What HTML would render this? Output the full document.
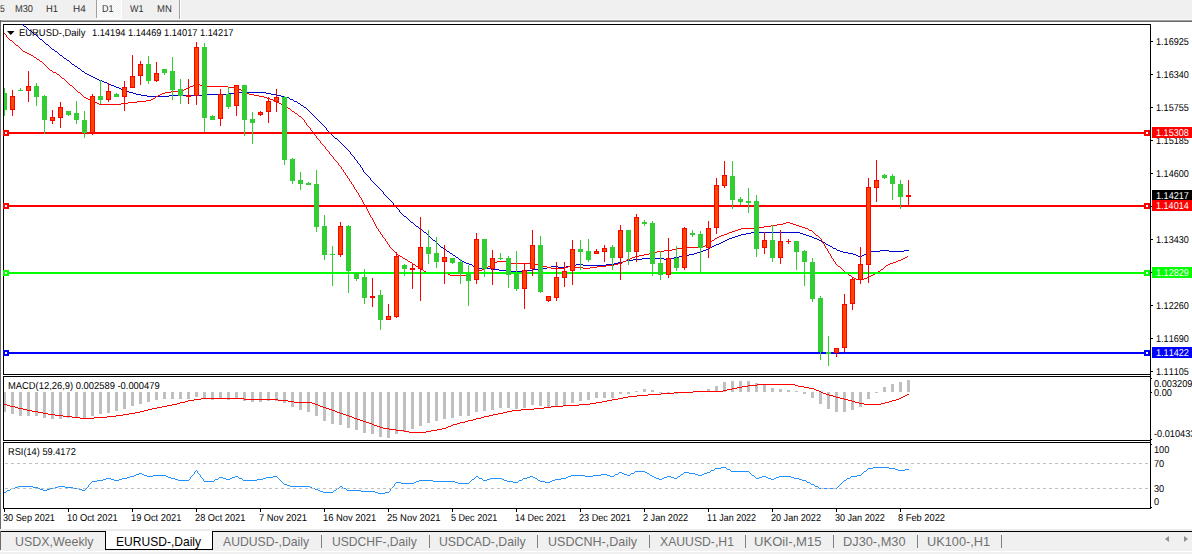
<!DOCTYPE html>
<html><head><meta charset="utf-8"><title>EURUSD</title>
<style>
html,body{margin:0;padding:0;overflow:hidden;}
body{width:1192px;height:554px;background:#fff;position:relative;overflow:hidden;font-family:"Liberation Sans",sans-serif;color:#000;}
.abs{position:absolute;white-space:nowrap;line-height:1;transform-origin:0 0;font-kerning:none;}
.t9,.tb,.ax,.dt{text-rendering:geometricPrecision;}
.tb{color:#303030;}
.tab{color:#707070;}
.ax{}
.dt{}
.lab{position:absolute;left:1151px;width:41px;height:11px;}
</style></head><body>
<svg width="1192" height="554" viewBox="0 0 1192 554" style="position:absolute;left:0;top:0" shape-rendering="crispEdges">
<!-- toolbar -->
<rect x="0" y="0" width="1192" height="20" fill="#f0f0f0"/>
<rect x="0" y="19" width="1192" height="1" fill="#f8f8f8"/>
<rect x="0" y="20" width="1192" height="1" fill="#a0a0a0"/>
<rect x="0" y="21" width="1192" height="1" fill="#696969"/>
<rect x="0" y="20" width="1" height="511" fill="#696969"/>
<defs><pattern id="chk" width="2" height="2" patternUnits="userSpaceOnUse"><rect width="2" height="2" fill="#f0f0f0"/><rect width="1" height="1" fill="#fff"/><rect x="1" y="1" width="1" height="1" fill="#fff"/></pattern></defs>
<rect x="97" y="0" width="24" height="18" fill="url(#chk)"/>
<rect x="121" y="0" width="1" height="19" fill="#fff"/>
<rect x="97" y="18" width="25" height="1" fill="#fff"/>
<rect x="96" y="0" width="1" height="18" fill="#a0a0a0"/>
<rect x="179" y="0" width="1" height="19" fill="#a0a0a0"/>
<rect x="180" y="0" width="1" height="19" fill="#ffffff"/>
<!-- frames -->
<rect x="3.5" y="24.5" width="1147" height="350" fill="none" stroke="#000"/>
<rect x="3.5" y="376.5" width="1147" height="64" fill="none" stroke="#000"/>
<rect x="3.5" y="442.5" width="1147" height="66" fill="none" stroke="#000"/>
<rect x="1150" y="24" width="1" height="485" fill="#000"/>
<g id="mas">
<path fill="#0000cd" d="M294 101h3v1h-3zM456 257h2v1h-2zM674 257h5v1h-5zM285 97h4v1h-4zM78 68h2v1h-2zM133 93h3v1h-3zM228 93h6v1h-6zM266 93h5v1h-5zM689 254h5v1h-5zM853 254h3v1h-3zM864 254h3v1h-3zM466 263h3v1h-3zM614 263h4v1h-4zM741 234h5v1h-5zM803 234h3v1h-3zM703 250h3v1h-3zM837 250h3v1h-3zM880 250h9v1h-9zM904 250h5v1h-5zM335 138h2v1h-2zM129 92h4v1h-4zM234 92h32v1h-32zM453 255h2v1h-2zM684 255h5v1h-5zM856 255h2v1h-2zM862 255h2v1h-2zM477 268h14v1h-14zM541 268h6v1h-6zM444 249h2v1h-2zM706 249h2v1h-2zM469 264h3v1h-3zM576 264h7v1h-7zM606 264h8v1h-8zM714 245h2v1h-2zM828 245h2v1h-2zM573 265h3v1h-3zM583 265h23v1h-23zM290 99h3v1h-3zM738 235h3v1h-3zM806 235h3v1h-3zM508 271h17v1h-17zM642 258h22v1h-22zM671 258h3v1h-3zM424 232h2v1h-2zM751 232h49v1h-49zM136 94h5v1h-5zM207 94h21v1h-21zM271 94h6v1h-6zM716 244h3v1h-3zM826 244h2v1h-2zM147 96h22v1h-22zM281 96h4v1h-4zM141 95h6v1h-6zM169 95h38v1h-38zM277 95h4v1h-4zM459 259h2v1h-2zM633 259h9v1h-9zM664 259h7v1h-7zM441 247h2v1h-2zM710 247h2v1h-2zM626 260h7v1h-7zM473 266h3v1h-3zM551 266h7v1h-7zM566 266h7v1h-7zM735 236h3v1h-3zM809 236h3v1h-3zM447 251h2v1h-2zM700 251h3v1h-3zM840 251h3v1h-3zM871 251h9v1h-9zM889 251h15v1h-15zM746 233h5v1h-5zM800 233h3v1h-3zM411 222h2v1h-2zM697 252h3v1h-3zM843 252h5v1h-5zM679 256h5v1h-5zM858 256h4v1h-4zM719 243h2v1h-2zM72 64h2v1h-2zM491 269h8v1h-8zM533 269h8v1h-8zM499 270h9v1h-9zM525 270h8v1h-8zM55 51h2v1h-2zM721 242h2v1h-2zM823 242h2v1h-2zM727 239h2v1h-2zM817 239h2v1h-2zM433 240h2v1h-2zM725 240h2v1h-2zM819 240h2v1h-2zM450 253h2v1h-2zM694 253h3v1h-3zM848 253h5v1h-5zM867 253h3v1h-3zM729 238h3v1h-3zM814 238h3v1h-3zM99 80h3v1h-3zM732 237h3v1h-3zM812 237h2v1h-2zM29 30h2v1h-2zM95 78h2v1h-2zM87 74h2v1h-2zM67 60h2v1h-2zM462 261h2v1h-2zM623 261h3v1h-3zM547 267h4v1h-4zM558 267h8v1h-8zM91 76h2v1h-2zM420 229h2v1h-2zM114 86h2v1h-2zM104 82h3v1h-3zM109 84h2v1h-2zM464 262h2v1h-2zM618 262h5v1h-5zM708 248h2v1h-2zM833 248h3v1h-3zM102 81h2v1h-2zM24 26h2v1h-2zM119 88h2v1h-2zM298 103h2v1h-2zM121 89h2v1h-2zM111 85h3v1h-3zM712 246h2v1h-2zM830 246h2v1h-2zM82 71h2v1h-2zM123 90h3v1h-3zM404 216h2v1h-2zM301 105h2v1h-2zM116 87h3v1h-3zM64 58h2v1h-2zM416 226h2v1h-2zM60 55h2v1h-2zM126 91h3v1h-3zM75 66h2v1h-2zM34 34h2v1h-2zM46 44h2v1h-2zM723 241h2v1h-2zM821 241h2v1h-2zM97 79h2v1h-2zM89 75h2v1h-2zM40 39h2v1h-2zM52 49h2v1h-2zM93 77h2v1h-2zM85 73h2v1h-2zM107 83h2v1h-2zM304 107h2v1h-2zM346 148h1v1h-1zM375 184h1v1h-1zM452 254h1v1h-1zM427 234h1v1h-1zM48 45h1v1h-1zM446 250h1v1h-1zM319 121h1v1h-1zM836 249h1v1h-1zM439 245h1v1h-1zM289 98h1v1h-1zM320 122h1v1h-1zM472 265h1v1h-1zM428 235h1v1h-1zM326 128h1v2h-1zM458 258h1v1h-1zM382 191h1v1h-1zM438 244h1v1h-1zM832 247h1v1h-1zM367 175h1v1h-1zM461 260h1v1h-1zM389 199h1v1h-1zM429 236h1v1h-1zM333 136h1v1h-1zM33 33h1v1h-1zM44 42h1v1h-1zM426 233h1v1h-1zM334 137h1v1h-1zM449 252h1v1h-1zM870 252h1v1h-1zM59 54h1v1h-1zM297 102h1v1h-1zM455 256h1v1h-1zM356 160h1v1h-1zM437 243h1v1h-1zM825 243h1v1h-1zM400 212h1v1h-1zM43 41h1v1h-1zM74 65h1v1h-1zM385 195h1v1h-1zM436 242h1v1h-1zM432 239h1v1h-1zM355 159h1v1h-1zM431 238h1v1h-1zM28 29h1v1h-1zM307 109h1v1h-1zM430 237h1v1h-1zM340 142h1v1h-1zM54 50h1v1h-1zM370 178h1v2h-1zM314 116h1v1h-1zM476 267h1v1h-1zM69 61h1v1h-1zM348 150h1v1h-1zM377 186h1v1h-1zM39 38h1v1h-1zM399 210h1v2h-1zM51 48h1v1h-1zM384 194h1v1h-1zM329 132h1v1h-1zM406 217h1v1h-1zM369 177h1v1h-1zM23 25h1v1h-1zM391 201h1v1h-1zM443 248h1v1h-1zM303 106h1v1h-1zM392 202h1v1h-1zM376 185h1v1h-1zM354 157h1v2h-1zM49 46h1v1h-1zM50 47h1v1h-1zM358 163h1v1h-1zM440 246h1v1h-1zM328 131h1v1h-1zM383 192h1v2h-1zM313 115h1v1h-1zM402 214h1v1h-1zM84 72h1v1h-1zM347 149h1v1h-1zM321 123h1v1h-1zM357 161h1v2h-1zM368 176h1v1h-1zM45 43h1v1h-1zM394 205h1v1h-1zM350 152h1v2h-1zM360 165h1v2h-1zM401 213h1v1h-1zM435 241h1v1h-1zM423 231h1v1h-1zM361 167h1v1h-1zM364 172h1v1h-1zM413 223h1v1h-1zM386 196h1v1h-1zM387 197h1v1h-1zM371 180h1v1h-1zM331 134h1v1h-1zM372 181h1v1h-1zM393 203h1v2h-1zM70 62h1v1h-1zM378 187h1v1h-1zM308 110h1v1h-1zM71 63h1v1h-1zM379 188h1v1h-1zM309 111h1v1h-1zM341 143h1v1h-1zM342 144h1v1h-1zM315 117h1v1h-1zM407 218h1v1h-1zM316 118h1v1h-1zM408 219h1v1h-1zM419 228h1v1h-1zM349 151h1v1h-1zM422 230h1v1h-1zM363 170h1v2h-1zM323 125h1v1h-1zM359 164h1v1h-1zM330 133h1v1h-1zM66 59h1v1h-1zM80 69h1v1h-1zM322 124h1v1h-1zM81 70h1v1h-1zM362 168h1v2h-1zM352 155h1v1h-1zM403 215h1v1h-1zM300 104h1v1h-1zM418 227h1v1h-1zM395 206h1v1h-1zM36 35h1v1h-1zM396 207h1v1h-1zM337 139h1v1h-1zM310 112h1v1h-1zM62 56h1v1h-1zM381 190h1v1h-1zM414 224h1v1h-1zM311 113h1v1h-1zM344 146h1v1h-1zM373 182h1v1h-1zM388 198h1v1h-1zM77 67h1v1h-1zM351 154h1v1h-1zM410 221h1v1h-1zM365 173h1v1h-1zM366 174h1v1h-1zM31 31h1v1h-1zM343 145h1v1h-1zM332 135h1v1h-1zM32 32h1v1h-1zM317 119h1v1h-1zM57 52h1v1h-1zM409 220h1v1h-1zM318 120h1v1h-1zM58 53h1v1h-1zM380 189h1v1h-1zM324 126h1v1h-1zM325 127h1v1h-1zM42 40h1v1h-1zM26 27h1v1h-1zM27 28h1v1h-1zM306 108h1v1h-1zM398 209h1v1h-1zM339 141h1v1h-1zM390 200h1v1h-1zM353 156h1v1h-1zM37 36h1v1h-1zM397 208h1v1h-1zM338 140h1v1h-1zM38 37h1v1h-1zM415 225h1v1h-1zM327 130h1v1h-1zM63 57h1v1h-1zM312 114h1v1h-1zM22 24h1v1h-1zM293 100h1v1h-1zM345 147h1v1h-1zM374 183h1v1h-1z"/>
<path fill="#ff0000" d="M398 255h2v1h-2zM639 255h5v1h-5zM99 104h22v1h-22zM281 104h2v1h-2zM171 91h7v1h-7zM243 91h2v1h-2zM285 106h2v1h-2zM729 232h3v1h-3zM86 98h2v1h-2zM153 98h2v1h-2zM267 98h3v1h-3zM416 266h2v1h-2zM488 266h2v1h-2zM542 266h5v1h-5zM568 266h7v1h-7zM597 266h9v1h-9zM838 266h2v1h-2zM485 268h2v1h-2zM551 268h13v1h-13zM583 268h7v1h-7zM78 92h2v1h-2zM165 92h6v1h-6zM245 92h2v1h-2zM190 86h3v1h-3zM205 86h23v1h-23zM186 88h2v1h-2zM234 88h5v1h-5zM450 275h17v1h-17zM849 275h2v1h-2zM871 275h2v1h-2zM413 264h2v1h-2zM491 264h2v1h-2zM531 264h8v1h-8zM614 264h4v1h-4zM888 264h2v1h-2zM469 273h3v1h-3zM846 273h2v1h-2zM418 267h2v1h-2zM547 267h4v1h-4zM564 267h4v1h-4zM575 267h8v1h-8zM590 267h7v1h-7zM786 222h4v1h-4zM735 230h3v1h-3zM809 230h3v1h-3zM649 253h3v1h-3zM25 52h2v1h-2zM403 258h2v1h-2zM630 258h2v1h-2zM903 258h2v1h-2zM184 89h2v1h-2zM239 89h2v1h-2zM421 269h2v1h-2zM482 269h3v1h-3zM881 269h2v1h-2zM410 262h2v1h-2zM495 262h2v1h-2zM506 262h4v1h-4zM893 262h3v1h-3zM90 100h2v1h-2zM146 100h5v1h-5zM273 100h2v1h-2zM687 247h12v1h-12zM856 279h8v1h-8zM493 263h2v1h-2zM510 263h21v1h-21zM618 263h4v1h-4zM890 263h3v1h-3zM97 103h2v1h-2zM121 103h7v1h-7zM279 103h2v1h-2zM664 250h8v1h-8zM27 53h2v1h-2zM424 271h2v1h-2zM475 271h4v1h-4zM878 271h2v1h-2zM70 85h2v1h-2zM193 85h3v1h-3zM200 85h5v1h-5zM771 225h6v1h-6zM796 225h3v1h-3zM741 228h17v1h-17zM805 228h3v1h-3zM29 54h2v1h-2zM657 251h7v1h-7zM672 249h5v1h-5zM92 101h2v1h-2zM137 101h9v1h-9zM275 101h2v1h-2zM94 102h3v1h-3zM128 102h9v1h-9zM277 102h2v1h-2zM400 256h2v1h-2zM635 256h4v1h-4zM160 94h2v1h-2zM249 94h5v1h-5zM10 40h2v1h-2zM62 78h2v1h-2zM188 87h2v1h-2zM228 87h6v1h-6zM758 227h6v1h-6zM802 227h3v1h-3zM31 55h2v1h-2zM88 99h2v1h-2zM151 99h2v1h-2zM270 99h3v1h-3zM724 234h3v1h-3zM783 223h3v1h-3zM790 223h3v1h-3zM539 265h3v1h-3zM606 265h8v1h-8zM886 265h2v1h-2zM426 272h21v1h-21zM472 272h3v1h-3zM876 272h2v1h-2zM479 270h3v1h-3zM408 261h2v1h-2zM497 261h9v1h-9zM623 261h3v1h-3zM896 261h2v1h-2zM299 116h2v1h-2zM677 248h10v1h-10zM721 235h3v1h-3zM816 235h2v1h-2zM898 260h3v1h-3zM162 93h3v1h-3zM247 93h2v1h-2zM764 226h7v1h-7zM799 226h3v1h-3zM84 97h2v1h-2zM264 97h3v1h-3zM632 257h3v1h-3zM905 257h2v1h-2zM158 95h2v1h-2zM254 95h5v1h-5zM644 254h5v1h-5zM405 259h2v1h-2zM627 259h3v1h-3zM901 259h2v1h-2zM717 237h2v1h-2zM652 252h5v1h-5zM57 74h2v1h-2zM777 224h6v1h-6zM793 224h3v1h-3zM196 84h4v1h-4zM732 231h3v1h-3zM854 278h2v1h-2zM864 278h3v1h-3zM295 113h2v1h-2zM852 277h2v1h-2zM738 229h3v1h-3zM156 96h2v1h-2zM259 96h5v1h-5zM292 111h2v1h-2zM727 233h2v1h-2zM705 245h2v1h-2zM16 45h2v1h-2zM50 70h2v1h-2zM178 90h6v1h-6zM241 90h2v1h-2zM699 246h6v1h-6zM448 274h2v1h-2zM467 274h2v1h-2zM873 274h2v1h-2zM37 59h2v1h-2zM719 236h2v1h-2zM34 57h2v1h-2zM283 105h2v1h-2zM715 238h2v1h-2zM708 243h2v1h-2zM712 240h2v1h-2zM868 276h3v1h-3zM40 61h2v1h-2zM53 72h3v1h-3zM288 108h2v1h-2zM23 51h2v1h-2zM830 254h1v2h-1zM77 91h1v1h-1zM380 232h1v2h-1zM813 232h1v1h-1zM885 266h1v1h-1zM420 268h1v1h-1zM841 268h1v1h-1zM883 268h1v1h-1zM72 86h1v1h-1zM74 88h1v1h-1zM836 264h1v1h-1zM447 273h1v1h-1zM875 273h1v1h-1zM487 267h1v1h-1zM840 267h1v1h-1zM884 267h1v1h-1zM330 154h1v1h-1zM374 222h1v2h-1zM378 229h1v2h-1zM33 56h1v1h-1zM396 253h1v1h-1zM829 253h1v1h-1zM832 258h1v1h-1zM75 89h1v1h-1zM842 269h1v1h-1zM622 262h1v1h-1zM835 262h1v2h-1zM390 247h1v1h-1zM825 246h1v2h-1zM412 263h1v1h-1zM393 250h1v1h-1zM827 249h1v2h-1zM844 271h1v1h-1zM375 224h1v2h-1zM377 228h1v1h-1zM394 251h1v1h-1zM828 251h1v2h-1zM340 166h1v1h-1zM392 249h1v1h-1zM831 256h1v2h-1zM907 256h1v1h-1zM81 94h1v1h-1zM73 87h1v1h-1zM341 167h1v2h-1zM376 226h1v2h-1zM381 234h1v1h-1zM815 234h1v1h-1zM415 265h1v1h-1zM490 265h1v1h-1zM837 265h1v1h-1zM845 272h1v1h-1zM423 270h1v1h-1zM843 270h1v1h-1zM880 270h1v1h-1zM834 261h1v1h-1zM329 152h1v2h-1zM391 248h1v1h-1zM826 248h1v1h-1zM382 235h1v2h-1zM407 260h1v1h-1zM626 260h1v1h-1zM833 259h1v2h-1zM80 93h1v1h-1zM333 157h1v2h-1zM311 130h1v1h-1zM155 97h1v1h-1zM402 257h1v1h-1zM82 95h1v1h-1zM344 172h1v1h-1zM9 39h1v1h-1zM397 254h1v1h-1zM21 49h1v1h-1zM322 144h1v1h-1zM383 237h1v1h-1zM819 237h1v1h-1zM395 252h1v1h-1zM43 63h1v1h-1zM68 83h1v1h-1zM373 220h1v2h-1zM69 84h1v1h-1zM20 48h1v1h-1zM310 128h1v2h-1zM369 213h1v2h-1zM379 231h1v1h-1zM812 231h1v1h-1zM343 170h1v2h-1zM321 143h1v1h-1zM314 134h1v1h-1zM867 277h1v1h-1zM808 229h1v1h-1zM42 62h1v1h-1zM291 110h1v1h-1zM83 96h1v1h-1zM814 233h1v1h-1zM389 245h1v2h-1zM824 244h1v2h-1zM332 156h1v1h-1zM49 69h1v1h-1zM347 176h1v2h-1zM39 60h1v1h-1zM76 90h1v1h-1zM325 147h1v2h-1zM848 274h1v1h-1zM313 133h1v1h-1zM342 169h1v1h-1zM372 218h1v2h-1zM345 173h1v2h-1zM346 175h1v1h-1zM354 187h1v2h-1zM818 236h1v1h-1zM287 107h1v1h-1zM324 146h1v1h-1zM64 79h1v1h-1zM302 118h1v1h-1zM335 160h1v1h-1zM368 211h1v2h-1zM312 131h1v2h-1zM371 217h1v1h-1zM349 179h1v2h-1zM4 33h1v1h-1zM22 50h1v1h-1zM384 238h1v1h-1zM820 238h1v1h-1zM353 185h1v2h-1zM323 145h1v1h-1zM387 242h1v2h-1zM823 243h1v1h-1zM385 239h1v2h-1zM821 239h1v2h-1zM298 115h1v1h-1zM301 117h1v1h-1zM44 64h1v1h-1zM370 215h1v2h-1zM334 159h1v1h-1zM710 242h1v1h-1zM822 241h1v2h-1zM367 209h1v2h-1zM316 136h1v2h-1zM348 178h1v1h-1zM356 190h1v2h-1zM352 184h1v1h-1zM363 202h1v2h-1zM315 135h1v1h-1zM7 37h1v1h-1zM59 75h1v1h-1zM297 114h1v1h-1zM359 195h1v2h-1zM851 276h1v1h-1zM326 149h1v1h-1zM304 120h1v2h-1zM6 35h1v2h-1zM366 207h1v2h-1zM351 182h1v2h-1zM362 200h1v2h-1zM714 239h1v1h-1zM355 189h1v1h-1zM303 119h1v1h-1zM5 34h1v1h-1zM307 125h1v1h-1zM36 58h1v1h-1zM336 161h1v1h-1zM365 205h1v2h-1zM388 244h1v1h-1zM707 244h1v1h-1zM337 162h1v1h-1zM350 181h1v1h-1zM358 193h1v2h-1zM65 80h1v1h-1zM306 123h1v2h-1zM361 198h1v2h-1zM364 204h1v1h-1zM317 138h1v1h-1zM357 192h1v1h-1zM318 139h1v1h-1zM61 77h1v1h-1zM12 41h1v1h-1zM45 65h1v1h-1zM13 42h1v1h-1zM46 66h1v1h-1zM386 241h1v1h-1zM711 241h1v1h-1zM60 76h1v1h-1zM339 165h1v1h-1zM360 197h1v1h-1zM327 150h1v1h-1zM328 151h1v1h-1zM305 122h1v1h-1zM56 73h1v1h-1zM294 112h1v1h-1zM18 46h1v1h-1zM338 163h1v2h-1zM8 38h1v1h-1zM19 47h1v1h-1zM320 141h1v2h-1zM52 71h1v1h-1zM331 155h1v1h-1zM319 140h1v1h-1zM290 109h1v1h-1zM14 43h1v1h-1zM66 81h1v1h-1zM47 67h1v1h-1zM15 44h1v1h-1zM67 82h1v1h-1zM308 126h1v1h-1zM48 68h1v1h-1zM309 127h1v1h-1z"/>
</g>
<g id="hlines">
<rect x="4" y="132" width="1146" height="2" fill="#ff0000"/>
<rect x="4" y="205" width="1146" height="2" fill="#ff0000"/>
<rect x="4" y="272" width="1146" height="2" fill="#00ff00"/>
<rect x="4" y="352" width="1146" height="2" fill="#0000ff"/>
</g>
<clipPath id="cp"><rect x="4" y="25" width="1146" height="484"/></clipPath><g id="candles" clip-path="url(#cp)">
<rect x="4" y="88" width="1" height="28" fill="#32cd32"/><rect x="2" y="93" width="5" height="17" fill="#32cd32"/><rect x="12" y="90" width="1" height="26" fill="#ff0000"/><rect x="10" y="96" width="5" height="14" fill="#ff0000"/><rect x="11" y="97" width="3" height="12" fill="#ff4500"/><rect x="20" y="88" width="1" height="3" fill="#32cd32"/><rect x="18" y="90" width="5" height="1" fill="#32cd32"/><rect x="28" y="71" width="1" height="31" fill="#ff0000"/><rect x="26" y="86" width="5" height="5" fill="#ff0000"/><rect x="27" y="87" width="3" height="3" fill="#ff4500"/><rect x="36" y="83" width="1" height="23" fill="#32cd32"/><rect x="34" y="86" width="5" height="11" fill="#32cd32"/><rect x="44" y="95" width="1" height="39" fill="#32cd32"/><rect x="42" y="96" width="5" height="24" fill="#32cd32"/><rect x="52" y="110" width="1" height="14" fill="#ff0000"/><rect x="50" y="117" width="5" height="4" fill="#ff0000"/><rect x="51" y="118" width="3" height="2" fill="#ff4500"/><rect x="60" y="102" width="1" height="26" fill="#ff0000"/><rect x="58" y="107" width="5" height="11" fill="#ff0000"/><rect x="59" y="108" width="3" height="9" fill="#ff4500"/><rect x="68" y="111" width="1" height="5" fill="#32cd32"/><rect x="66" y="111" width="5" height="4" fill="#32cd32"/><rect x="76" y="101" width="1" height="23" fill="#32cd32"/><rect x="74" y="113" width="5" height="7" fill="#32cd32"/><rect x="84" y="111" width="1" height="27" fill="#32cd32"/><rect x="82" y="120" width="5" height="13" fill="#32cd32"/><rect x="92" y="94" width="1" height="41" fill="#ff0000"/><rect x="90" y="96" width="5" height="37" fill="#ff0000"/><rect x="91" y="97" width="3" height="35" fill="#ff4500"/><rect x="100" y="80" width="1" height="24" fill="#32cd32"/><rect x="98" y="96" width="5" height="4" fill="#32cd32"/><rect x="108" y="83" width="1" height="19" fill="#ff0000"/><rect x="106" y="91" width="5" height="9" fill="#ff0000"/><rect x="107" y="92" width="3" height="7" fill="#ff4500"/><rect x="116" y="93" width="1" height="4" fill="#32cd32"/><rect x="114" y="94" width="5" height="3" fill="#32cd32"/><rect x="124" y="81" width="1" height="30" fill="#ff0000"/><rect x="122" y="87" width="5" height="10" fill="#ff0000"/><rect x="123" y="88" width="3" height="8" fill="#ff4500"/><rect x="132" y="55" width="1" height="33" fill="#ff0000"/><rect x="130" y="76" width="5" height="12" fill="#ff0000"/><rect x="131" y="77" width="3" height="10" fill="#ff4500"/><rect x="140" y="61" width="1" height="24" fill="#ff0000"/><rect x="138" y="64" width="5" height="12" fill="#ff0000"/><rect x="139" y="65" width="3" height="10" fill="#ff4500"/><rect x="148" y="56" width="1" height="28" fill="#32cd32"/><rect x="146" y="64" width="5" height="17" fill="#32cd32"/><rect x="156" y="62" width="1" height="20" fill="#ff0000"/><rect x="154" y="73" width="5" height="8" fill="#ff0000"/><rect x="155" y="74" width="3" height="6" fill="#ff4500"/><rect x="164" y="69" width="1" height="6" fill="#32cd32"/><rect x="162" y="69" width="5" height="4" fill="#32cd32"/><rect x="172" y="57" width="1" height="43" fill="#32cd32"/><rect x="170" y="71" width="5" height="19" fill="#32cd32"/><rect x="180" y="79" width="1" height="25" fill="#32cd32"/><rect x="178" y="89" width="5" height="7" fill="#32cd32"/><rect x="188" y="79" width="1" height="25" fill="#ff0000"/><rect x="186" y="95" width="5" height="2" fill="#ff0000"/><rect x="196" y="42" width="1" height="63" fill="#ff0000"/><rect x="194" y="47" width="5" height="49" fill="#ff0000"/><rect x="195" y="48" width="3" height="47" fill="#ff4500"/><rect x="204" y="43" width="1" height="89" fill="#32cd32"/><rect x="202" y="47" width="5" height="71" fill="#32cd32"/><rect x="212" y="115" width="1" height="5" fill="#32cd32"/><rect x="210" y="116" width="5" height="4" fill="#32cd32"/><rect x="220" y="89" width="1" height="37" fill="#ff0000"/><rect x="218" y="94" width="5" height="25" fill="#ff0000"/><rect x="219" y="95" width="3" height="23" fill="#ff4500"/><rect x="228" y="87" width="1" height="22" fill="#32cd32"/><rect x="226" y="94" width="5" height="13" fill="#32cd32"/><rect x="236" y="85" width="1" height="31" fill="#ff0000"/><rect x="234" y="85" width="5" height="21" fill="#ff0000"/><rect x="235" y="86" width="3" height="19" fill="#ff4500"/><rect x="244" y="85" width="1" height="51" fill="#32cd32"/><rect x="242" y="85" width="5" height="35" fill="#32cd32"/><rect x="252" y="112" width="1" height="32" fill="#32cd32"/><rect x="250" y="119" width="5" height="4" fill="#32cd32"/><rect x="260" y="111" width="1" height="5" fill="#ff0000"/><rect x="258" y="112" width="5" height="3" fill="#ff0000"/><rect x="259" y="113" width="3" height="1" fill="#ff4500"/><rect x="268" y="97" width="1" height="26" fill="#ff0000"/><rect x="266" y="101" width="5" height="11" fill="#ff0000"/><rect x="267" y="102" width="3" height="9" fill="#ff4500"/><rect x="276" y="89" width="1" height="23" fill="#ff0000"/><rect x="274" y="97" width="5" height="5" fill="#ff0000"/><rect x="275" y="98" width="3" height="3" fill="#ff4500"/><rect x="284" y="96" width="1" height="69" fill="#32cd32"/><rect x="282" y="97" width="5" height="63" fill="#32cd32"/><rect x="292" y="158" width="1" height="26" fill="#32cd32"/><rect x="290" y="159" width="5" height="22" fill="#32cd32"/><rect x="300" y="172" width="1" height="18" fill="#32cd32"/><rect x="298" y="180" width="5" height="4" fill="#32cd32"/><rect x="308" y="182" width="1" height="3" fill="#32cd32"/><rect x="306" y="183" width="5" height="2" fill="#32cd32"/><rect x="316" y="170" width="1" height="62" fill="#32cd32"/><rect x="314" y="184" width="5" height="43" fill="#32cd32"/><rect x="324" y="215" width="1" height="45" fill="#32cd32"/><rect x="322" y="226" width="5" height="29" fill="#32cd32"/><rect x="332" y="246" width="1" height="40" fill="#32cd32"/><rect x="330" y="254" width="5" height="1" fill="#32cd32"/><rect x="340" y="222" width="1" height="35" fill="#ff0000"/><rect x="338" y="226" width="5" height="29" fill="#ff0000"/><rect x="339" y="227" width="3" height="27" fill="#ff4500"/><rect x="348" y="225" width="1" height="68" fill="#32cd32"/><rect x="346" y="226" width="5" height="45" fill="#32cd32"/><rect x="356" y="273" width="1" height="8" fill="#32cd32"/><rect x="354" y="273" width="5" height="6" fill="#32cd32"/><rect x="364" y="269" width="1" height="35" fill="#32cd32"/><rect x="362" y="277" width="5" height="21" fill="#32cd32"/><rect x="372" y="278" width="1" height="29" fill="#ff0000"/><rect x="370" y="296" width="5" height="2" fill="#ff0000"/><rect x="380" y="290" width="1" height="40" fill="#32cd32"/><rect x="378" y="295" width="5" height="25" fill="#32cd32"/><rect x="388" y="304" width="1" height="16" fill="#ff0000"/><rect x="386" y="316" width="5" height="4" fill="#ff0000"/><rect x="387" y="317" width="3" height="2" fill="#ff4500"/><rect x="396" y="252" width="1" height="66" fill="#ff0000"/><rect x="394" y="256" width="5" height="61" fill="#ff0000"/><rect x="395" y="257" width="3" height="59" fill="#ff4500"/><rect x="404" y="264" width="1" height="12" fill="#32cd32"/><rect x="402" y="265" width="5" height="4" fill="#32cd32"/><rect x="412" y="264" width="1" height="25" fill="#ff0000"/><rect x="410" y="268" width="5" height="2" fill="#ff0000"/><rect x="420" y="217" width="1" height="84" fill="#ff0000"/><rect x="418" y="247" width="5" height="22" fill="#ff0000"/><rect x="419" y="248" width="3" height="20" fill="#ff4500"/><rect x="428" y="230" width="1" height="34" fill="#32cd32"/><rect x="426" y="247" width="5" height="7" fill="#32cd32"/><rect x="436" y="237" width="1" height="31" fill="#32cd32"/><rect x="434" y="253" width="5" height="9" fill="#32cd32"/><rect x="444" y="245" width="1" height="39" fill="#ff0000"/><rect x="442" y="257" width="5" height="5" fill="#ff0000"/><rect x="443" y="258" width="3" height="3" fill="#ff4500"/><rect x="452" y="258" width="1" height="6" fill="#32cd32"/><rect x="450" y="258" width="5" height="5" fill="#32cd32"/><rect x="460" y="259" width="1" height="25" fill="#32cd32"/><rect x="458" y="262" width="5" height="12" fill="#32cd32"/><rect x="468" y="265" width="1" height="41" fill="#32cd32"/><rect x="466" y="274" width="5" height="7" fill="#32cd32"/><rect x="476" y="233" width="1" height="51" fill="#ff0000"/><rect x="474" y="239" width="5" height="41" fill="#ff0000"/><rect x="475" y="240" width="3" height="39" fill="#ff4500"/><rect x="484" y="239" width="1" height="38" fill="#32cd32"/><rect x="482" y="239" width="5" height="30" fill="#32cd32"/><rect x="492" y="250" width="1" height="35" fill="#ff0000"/><rect x="490" y="258" width="5" height="11" fill="#ff0000"/><rect x="491" y="259" width="3" height="9" fill="#ff4500"/><rect x="500" y="253" width="1" height="7" fill="#32cd32"/><rect x="498" y="258" width="5" height="1" fill="#32cd32"/><rect x="508" y="256" width="1" height="32" fill="#32cd32"/><rect x="506" y="258" width="5" height="17" fill="#32cd32"/><rect x="516" y="251" width="1" height="40" fill="#32cd32"/><rect x="514" y="274" width="5" height="15" fill="#32cd32"/><rect x="524" y="264" width="1" height="45" fill="#ff0000"/><rect x="522" y="270" width="5" height="19" fill="#ff0000"/><rect x="523" y="271" width="3" height="17" fill="#ff4500"/><rect x="532" y="230" width="1" height="46" fill="#ff0000"/><rect x="530" y="245" width="5" height="24" fill="#ff0000"/><rect x="531" y="246" width="3" height="22" fill="#ff4500"/><rect x="540" y="236" width="1" height="57" fill="#32cd32"/><rect x="538" y="245" width="5" height="47" fill="#32cd32"/><rect x="548" y="296" width="1" height="6" fill="#ff0000"/><rect x="546" y="296" width="5" height="5" fill="#ff0000"/><rect x="547" y="297" width="3" height="3" fill="#ff4500"/><rect x="556" y="262" width="1" height="39" fill="#ff0000"/><rect x="554" y="277" width="5" height="21" fill="#ff0000"/><rect x="555" y="278" width="3" height="19" fill="#ff4500"/><rect x="564" y="262" width="1" height="25" fill="#ff0000"/><rect x="562" y="271" width="5" height="7" fill="#ff0000"/><rect x="563" y="272" width="3" height="5" fill="#ff4500"/><rect x="572" y="240" width="1" height="45" fill="#ff0000"/><rect x="570" y="249" width="5" height="22" fill="#ff0000"/><rect x="571" y="250" width="3" height="20" fill="#ff4500"/><rect x="580" y="240" width="1" height="30" fill="#32cd32"/><rect x="578" y="249" width="5" height="3" fill="#32cd32"/><rect x="588" y="239" width="1" height="23" fill="#32cd32"/><rect x="586" y="251" width="5" height="9" fill="#32cd32"/><rect x="596" y="249" width="1" height="5" fill="#ff0000"/><rect x="594" y="251" width="5" height="3" fill="#ff0000"/><rect x="595" y="252" width="3" height="1" fill="#ff4500"/><rect x="604" y="245" width="1" height="17" fill="#ff0000"/><rect x="602" y="248" width="5" height="4" fill="#ff0000"/><rect x="603" y="249" width="3" height="2" fill="#ff4500"/><rect x="612" y="245" width="1" height="25" fill="#32cd32"/><rect x="610" y="247" width="5" height="11" fill="#32cd32"/><rect x="620" y="225" width="1" height="55" fill="#ff0000"/><rect x="618" y="230" width="5" height="28" fill="#ff0000"/><rect x="619" y="231" width="3" height="26" fill="#ff4500"/><rect x="628" y="230" width="1" height="35" fill="#32cd32"/><rect x="626" y="230" width="5" height="22" fill="#32cd32"/><rect x="636" y="214" width="1" height="48" fill="#ff0000"/><rect x="634" y="217" width="5" height="35" fill="#ff0000"/><rect x="635" y="218" width="3" height="33" fill="#ff4500"/><rect x="644" y="220" width="1" height="6" fill="#32cd32"/><rect x="642" y="222" width="5" height="2" fill="#32cd32"/><rect x="652" y="221" width="1" height="55" fill="#32cd32"/><rect x="650" y="223" width="5" height="41" fill="#32cd32"/><rect x="660" y="251" width="1" height="29" fill="#32cd32"/><rect x="658" y="263" width="5" height="12" fill="#32cd32"/><rect x="668" y="238" width="1" height="40" fill="#ff0000"/><rect x="666" y="258" width="5" height="17" fill="#ff0000"/><rect x="667" y="259" width="3" height="15" fill="#ff4500"/><rect x="676" y="246" width="1" height="25" fill="#32cd32"/><rect x="674" y="258" width="5" height="10" fill="#32cd32"/><rect x="684" y="227" width="1" height="43" fill="#ff0000"/><rect x="682" y="228" width="5" height="40" fill="#ff0000"/><rect x="683" y="229" width="3" height="38" fill="#ff4500"/><rect x="692" y="230" width="1" height="7" fill="#32cd32"/><rect x="690" y="233" width="5" height="2" fill="#32cd32"/><rect x="700" y="231" width="1" height="41" fill="#32cd32"/><rect x="698" y="234" width="5" height="14" fill="#32cd32"/><rect x="708" y="221" width="1" height="37" fill="#ff0000"/><rect x="706" y="228" width="5" height="20" fill="#ff0000"/><rect x="707" y="229" width="3" height="18" fill="#ff4500"/><rect x="716" y="178" width="1" height="56" fill="#ff0000"/><rect x="714" y="185" width="5" height="43" fill="#ff0000"/><rect x="715" y="186" width="3" height="41" fill="#ff4500"/><rect x="724" y="161" width="1" height="27" fill="#ff0000"/><rect x="722" y="175" width="5" height="11" fill="#ff0000"/><rect x="723" y="176" width="3" height="9" fill="#ff4500"/><rect x="732" y="161" width="1" height="48" fill="#32cd32"/><rect x="730" y="176" width="5" height="24" fill="#32cd32"/><rect x="740" y="197" width="1" height="8" fill="#32cd32"/><rect x="738" y="199" width="5" height="3" fill="#32cd32"/><rect x="748" y="188" width="1" height="25" fill="#32cd32"/><rect x="746" y="201" width="5" height="2" fill="#32cd32"/><rect x="756" y="195" width="1" height="62" fill="#32cd32"/><rect x="754" y="201" width="5" height="48" fill="#32cd32"/><rect x="764" y="232" width="1" height="22" fill="#ff0000"/><rect x="762" y="240" width="5" height="8" fill="#ff0000"/><rect x="763" y="241" width="3" height="6" fill="#ff4500"/><rect x="772" y="225" width="1" height="37" fill="#32cd32"/><rect x="770" y="240" width="5" height="18" fill="#32cd32"/><rect x="780" y="230" width="1" height="34" fill="#ff0000"/><rect x="778" y="241" width="5" height="17" fill="#ff0000"/><rect x="779" y="242" width="3" height="15" fill="#ff4500"/><rect x="788" y="239" width="1" height="5" fill="#ff0000"/><rect x="786" y="241" width="5" height="1" fill="#ff0000"/><rect x="796" y="241" width="1" height="29" fill="#32cd32"/><rect x="794" y="241" width="5" height="11" fill="#32cd32"/><rect x="804" y="250" width="1" height="36" fill="#32cd32"/><rect x="802" y="251" width="5" height="11" fill="#32cd32"/><rect x="812" y="258" width="1" height="44" fill="#32cd32"/><rect x="810" y="262" width="5" height="37" fill="#32cd32"/><rect x="820" y="296" width="1" height="64" fill="#32cd32"/><rect x="818" y="298" width="5" height="54" fill="#32cd32"/><rect x="828" y="336" width="1" height="30" fill="#32cd32"/><rect x="826" y="352" width="5" height="2" fill="#32cd32"/><rect x="836" y="348" width="1" height="9" fill="#ff0000"/><rect x="834" y="348" width="5" height="5" fill="#ff0000"/><rect x="835" y="349" width="3" height="3" fill="#ff4500"/><rect x="844" y="294" width="1" height="58" fill="#ff0000"/><rect x="842" y="304" width="5" height="44" fill="#ff0000"/><rect x="843" y="305" width="3" height="42" fill="#ff4500"/><rect x="852" y="278" width="1" height="32" fill="#ff0000"/><rect x="850" y="279" width="5" height="25" fill="#ff0000"/><rect x="851" y="280" width="3" height="23" fill="#ff4500"/><rect x="860" y="247" width="1" height="37" fill="#ff0000"/><rect x="858" y="264" width="5" height="16" fill="#ff0000"/><rect x="859" y="265" width="3" height="14" fill="#ff4500"/><rect x="868" y="178" width="1" height="105" fill="#ff0000"/><rect x="866" y="187" width="5" height="78" fill="#ff0000"/><rect x="867" y="188" width="3" height="76" fill="#ff4500"/><rect x="876" y="160" width="1" height="42" fill="#ff0000"/><rect x="874" y="180" width="5" height="8" fill="#ff0000"/><rect x="875" y="181" width="3" height="6" fill="#ff4500"/><rect x="884" y="174" width="1" height="5" fill="#32cd32"/><rect x="882" y="175" width="5" height="3" fill="#32cd32"/><rect x="892" y="174" width="1" height="26" fill="#32cd32"/><rect x="890" y="176" width="5" height="8" fill="#32cd32"/><rect x="900" y="180" width="1" height="29" fill="#32cd32"/><rect x="898" y="184" width="5" height="13" fill="#32cd32"/><rect x="908" y="180" width="1" height="26" fill="#ff0000"/><rect x="906" y="195" width="5" height="2" fill="#ff0000"/>
</g>
<g id="macd" clip-path="url(#cp)">
<rect x="3" y="392" width="3" height="20" fill="#c0c0c0"/><rect x="11" y="392" width="3" height="22" fill="#c0c0c0"/><rect x="19" y="392" width="3" height="24" fill="#c0c0c0"/><rect x="27" y="392" width="3" height="24" fill="#c0c0c0"/><rect x="35" y="392" width="3" height="24" fill="#c0c0c0"/><rect x="43" y="392" width="3" height="26" fill="#c0c0c0"/><rect x="51" y="392" width="3" height="27" fill="#c0c0c0"/><rect x="59" y="392" width="3" height="27" fill="#c0c0c0"/><rect x="67" y="392" width="3" height="26" fill="#c0c0c0"/><rect x="75" y="392" width="3" height="26" fill="#c0c0c0"/><rect x="83" y="392" width="3" height="27" fill="#c0c0c0"/><rect x="91" y="392" width="3" height="24" fill="#c0c0c0"/><rect x="99" y="392" width="3" height="22" fill="#c0c0c0"/><rect x="107" y="392" width="3" height="21" fill="#c0c0c0"/><rect x="115" y="392" width="3" height="19" fill="#c0c0c0"/><rect x="123" y="392" width="3" height="17" fill="#c0c0c0"/><rect x="131" y="392" width="3" height="14" fill="#c0c0c0"/><rect x="139" y="392" width="3" height="12" fill="#c0c0c0"/><rect x="147" y="392" width="3" height="10" fill="#c0c0c0"/><rect x="155" y="392" width="3" height="8" fill="#c0c0c0"/><rect x="163" y="392" width="3" height="7" fill="#c0c0c0"/><rect x="171" y="392" width="3" height="7" fill="#c0c0c0"/><rect x="179" y="392" width="3" height="7" fill="#c0c0c0"/><rect x="187" y="392" width="3" height="7" fill="#c0c0c0"/><rect x="195" y="392" width="3" height="5" fill="#c0c0c0"/><rect x="203" y="392" width="3" height="7" fill="#c0c0c0"/><rect x="211" y="392" width="3" height="8" fill="#c0c0c0"/><rect x="219" y="392" width="3" height="7" fill="#c0c0c0"/><rect x="227" y="392" width="3" height="8" fill="#c0c0c0"/><rect x="235" y="392" width="3" height="7" fill="#c0c0c0"/><rect x="243" y="392" width="3" height="9" fill="#c0c0c0"/><rect x="251" y="392" width="3" height="10" fill="#c0c0c0"/><rect x="259" y="392" width="3" height="10" fill="#c0c0c0"/><rect x="267" y="392" width="3" height="9" fill="#c0c0c0"/><rect x="275" y="392" width="3" height="9" fill="#c0c0c0"/><rect x="283" y="392" width="3" height="11" fill="#c0c0c0"/><rect x="291" y="392" width="3" height="15" fill="#c0c0c0"/><rect x="299" y="392" width="3" height="18" fill="#c0c0c0"/><rect x="307" y="392" width="3" height="20" fill="#c0c0c0"/><rect x="315" y="392" width="3" height="24" fill="#c0c0c0"/><rect x="323" y="392" width="3" height="29" fill="#c0c0c0"/><rect x="331" y="392" width="3" height="32" fill="#c0c0c0"/><rect x="339" y="392" width="3" height="33" fill="#c0c0c0"/><rect x="347" y="392" width="3" height="36" fill="#c0c0c0"/><rect x="355" y="392" width="3" height="38" fill="#c0c0c0"/><rect x="363" y="392" width="3" height="41" fill="#c0c0c0"/><rect x="371" y="392" width="3" height="42" fill="#c0c0c0"/><rect x="379" y="392" width="3" height="45" fill="#c0c0c0"/><rect x="387" y="392" width="3" height="46" fill="#c0c0c0"/><rect x="395" y="392" width="3" height="42" fill="#c0c0c0"/><rect x="403" y="392" width="3" height="40" fill="#c0c0c0"/><rect x="411" y="392" width="3" height="37" fill="#c0c0c0"/><rect x="419" y="392" width="3" height="34" fill="#c0c0c0"/><rect x="427" y="392" width="3" height="31" fill="#c0c0c0"/><rect x="435" y="392" width="3" height="29" fill="#c0c0c0"/><rect x="443" y="392" width="3" height="27" fill="#c0c0c0"/><rect x="451" y="392" width="3" height="26" fill="#c0c0c0"/><rect x="459" y="392" width="3" height="24" fill="#c0c0c0"/><rect x="467" y="392" width="3" height="24" fill="#c0c0c0"/><rect x="475" y="392" width="3" height="20" fill="#c0c0c0"/><rect x="483" y="392" width="3" height="19" fill="#c0c0c0"/><rect x="491" y="392" width="3" height="18" fill="#c0c0c0"/><rect x="499" y="392" width="3" height="16" fill="#c0c0c0"/><rect x="507" y="392" width="3" height="16" fill="#c0c0c0"/><rect x="515" y="392" width="3" height="17" fill="#c0c0c0"/><rect x="523" y="392" width="3" height="16" fill="#c0c0c0"/><rect x="531" y="392" width="3" height="13" fill="#c0c0c0"/><rect x="539" y="392" width="3" height="14" fill="#c0c0c0"/><rect x="547" y="392" width="3" height="15" fill="#c0c0c0"/><rect x="555" y="392" width="3" height="14" fill="#c0c0c0"/><rect x="563" y="392" width="3" height="13" fill="#c0c0c0"/><rect x="571" y="392" width="3" height="11" fill="#c0c0c0"/><rect x="579" y="392" width="3" height="9" fill="#c0c0c0"/><rect x="587" y="392" width="3" height="8" fill="#c0c0c0"/><rect x="595" y="392" width="3" height="6" fill="#c0c0c0"/><rect x="603" y="392" width="3" height="6" fill="#c0c0c0"/><rect x="611" y="392" width="3" height="6" fill="#c0c0c0"/><rect x="619" y="392" width="3" height="2" fill="#c0c0c0"/><rect x="627" y="392" width="3" height="2" fill="#c0c0c0"/><rect x="635" y="391" width="3" height="1" fill="#c0c0c0"/><rect x="643" y="389" width="3" height="3" fill="#c0c0c0"/><rect x="651" y="390" width="3" height="2" fill="#c0c0c0"/><rect x="659" y="392" width="3" height="1" fill="#c0c0c0"/><rect x="667" y="392" width="3" height="1" fill="#c0c0c0"/><rect x="675" y="392" width="3" height="2" fill="#c0c0c0"/><rect x="707" y="389" width="3" height="3" fill="#c0c0c0"/><rect x="715" y="386" width="3" height="6" fill="#c0c0c0"/><rect x="723" y="382" width="3" height="10" fill="#c0c0c0"/><rect x="731" y="381" width="3" height="11" fill="#c0c0c0"/><rect x="739" y="381" width="3" height="11" fill="#c0c0c0"/><rect x="747" y="381" width="3" height="11" fill="#c0c0c0"/><rect x="755" y="383" width="3" height="9" fill="#c0c0c0"/><rect x="763" y="385" width="3" height="7" fill="#c0c0c0"/><rect x="771" y="388" width="3" height="4" fill="#c0c0c0"/><rect x="779" y="389" width="3" height="3" fill="#c0c0c0"/><rect x="787" y="390" width="3" height="2" fill="#c0c0c0"/><rect x="795" y="391" width="3" height="1" fill="#c0c0c0"/><rect x="803" y="392" width="3" height="2" fill="#c0c0c0"/><rect x="811" y="392" width="3" height="6" fill="#c0c0c0"/><rect x="819" y="392" width="3" height="12" fill="#c0c0c0"/><rect x="827" y="392" width="3" height="17" fill="#c0c0c0"/><rect x="835" y="392" width="3" height="20" fill="#c0c0c0"/><rect x="843" y="392" width="3" height="20" fill="#c0c0c0"/><rect x="851" y="392" width="3" height="18" fill="#c0c0c0"/><rect x="859" y="392" width="3" height="15" fill="#c0c0c0"/><rect x="867" y="392" width="3" height="7" fill="#c0c0c0"/><rect x="875" y="392" width="3" height="1" fill="#c0c0c0"/><rect x="883" y="387" width="3" height="5" fill="#c0c0c0"/><rect x="891" y="384" width="3" height="8" fill="#c0c0c0"/><rect x="899" y="382" width="3" height="10" fill="#c0c0c0"/><rect x="907" y="380" width="3" height="12" fill="#c0c0c0"/>
<path fill="#ff0000" d="M10 406h5v1h-5zM162 406h5v1h-5zM320 406h3v1h-3zM551 406h12v1h-12zM409 432h17v1h-17zM732 388h5v1h-5zM809 388h5v1h-5zM18 408h5v1h-5zM152 408h5v1h-5zM326 408h3v1h-3zM534 408h10v1h-10zM194 399h7v1h-7zM244 399h34v1h-34zM612 399h6v1h-6zM844 399h4v1h-4zM896 399h3v1h-3zM742 386h6v1h-6zM798 386h6v1h-6zM661 393h13v1h-13zM823 393h3v1h-3zM23 409h4v1h-4zM148 409h4v1h-4zM329 409h3v1h-3zM521 409h13v1h-13zM72 417h8v1h-8zM94 417h13v1h-13zM352 417h2v1h-2zM481 417h3v1h-3zM32 411h6v1h-6zM140 411h4v1h-4zM335 411h2v1h-2zM507 411h5v1h-5zM48 414h7v1h-7zM123 414h6v1h-6zM343 414h3v1h-3zM493 414h5v1h-5zM15 407h3v1h-3zM157 407h5v1h-5zM323 407h3v1h-3zM544 407h7v1h-7zM389 429h7v1h-7zM437 429h5v1h-5zM693 391h30v1h-30zM819 391h2v1h-2zM623 397h5v1h-5zM836 397h4v1h-4zM901 397h2v1h-2zM757 384h38v1h-38zM63 416h9v1h-9zM107 416h9v1h-9zM349 416h3v1h-3zM484 416h5v1h-5zM80 418h14v1h-14zM354 418h3v1h-3zM476 418h5v1h-5zM55 415h8v1h-8zM116 415h7v1h-7zM346 415h3v1h-3zM489 415h4v1h-4zM185 401h3v1h-3zM288 401h6v1h-6zM602 401h5v1h-5zM852 401h3v1h-3zM889 401h3v1h-3zM648 394h13v1h-13zM826 394h3v1h-3zM907 394h2v1h-2zM396 430h8v1h-8zM431 430h6v1h-6zM180 402h5v1h-5zM294 402h18v1h-18zM596 402h6v1h-6zM855 402h4v1h-4zM885 402h4v1h-4zM404 431h5v1h-5zM426 431h5v1h-5zM727 389h5v1h-5zM814 389h2v1h-2zM7 405h3v1h-3zM167 405h5v1h-5zM318 405h2v1h-2zM563 405h16v1h-16zM674 392h19v1h-19zM821 392h2v1h-2zM4 404h3v1h-3zM172 404h5v1h-5zM315 404h3v1h-3zM579 404h11v1h-11zM864 404h17v1h-17zM201 398h43v1h-43zM618 398h5v1h-5zM840 398h4v1h-4zM899 398h2v1h-2zM43 413h5v1h-5zM129 413h6v1h-6zM340 413h3v1h-3zM498 413h5v1h-5zM366 422h3v1h-3zM460 422h5v1h-5zM628 396h9v1h-9zM833 396h3v1h-3zM903 396h2v1h-2zM637 395h11v1h-11zM829 395h4v1h-4zM905 395h2v1h-2zM27 410h5v1h-5zM144 410h4v1h-4zM332 410h3v1h-3zM512 410h9v1h-9zM188 400h6v1h-6zM278 400h10v1h-10zM607 400h5v1h-5zM848 400h4v1h-4zM892 400h4v1h-4zM737 387h5v1h-5zM804 387h5v1h-5zM38 412h5v1h-5zM135 412h5v1h-5zM337 412h3v1h-3zM503 412h4v1h-4zM377 426h3v1h-3zM448 426h3v1h-3zM360 420h3v1h-3zM468 420h5v1h-5zM723 390h4v1h-4zM816 390h3v1h-3zM374 425h3v1h-3zM451 425h2v1h-2zM369 423h3v1h-3zM457 423h3v1h-3zM380 427h3v1h-3zM446 427h2v1h-2zM748 385h9v1h-9zM795 385h3v1h-3zM177 403h3v1h-3zM312 403h3v1h-3zM590 403h6v1h-6zM859 403h5v1h-5zM881 403h4v1h-4zM363 421h3v1h-3zM465 421h3v1h-3zM383 428h6v1h-6zM442 428h4v1h-4zM357 419h3v1h-3zM473 419h3v1h-3zM372 424h2v1h-2zM453 424h4v1h-4z"/>
</g>
<g id="rsi">
<path fill="#1e90ff" d="M103 479h3v1h-3zM111 479h3v1h-3zM119 479h3v1h-3zM175 479h3v1h-3zM215 479h3v1h-3zM226 479h4v1h-4zM257 479h6v1h-6zM472 479h2v1h-2zM487 479h3v1h-3zM502 479h2v1h-2zM555 479h6v1h-6zM659 479h3v1h-3zM771 479h3v1h-3zM799 479h3v1h-3zM40 489h3v1h-3zM47 489h3v1h-3zM79 489h3v1h-3zM315 489h3v1h-3zM18 486h15v1h-15zM58 486h7v1h-7zM290 486h20v1h-20zM340 486h2v1h-2zM815 486h3v1h-3zM11 488h4v1h-4zM38 488h2v1h-2zM50 488h5v1h-5zM73 488h6v1h-6zM312 488h3v1h-3zM337 488h2v1h-2zM343 488h3v1h-3zM819 488h18v1h-18zM134 475h2v1h-2zM144 475h3v1h-3zM153 475h13v1h-13zM571 475h14v1h-14zM593 475h8v1h-8zM607 475h3v1h-3zM627 475h3v1h-3zM650 475h2v1h-2zM698 475h4v1h-4zM752 475h2v1h-2zM857 475h4v1h-4zM396 482h5v1h-5zM414 482h2v1h-2zM455 482h3v1h-3zM513 482h5v1h-5zM545 482h5v1h-5zM807 482h3v1h-3zM715 468h6v1h-6zM868 468h5v1h-5zM889 468h6v1h-6zM4 492h2v1h-2zM323 492h10v1h-10zM375 492h3v1h-3zM385 492h4v1h-4zM727 469h3v1h-3zM895 469h3v1h-3zM905 469h4v1h-4zM7 490h3v1h-3zM43 490h4v1h-4zM82 490h3v1h-3zM318 490h2v1h-2zM334 490h2v1h-2zM347 490h14v1h-14zM97 480h6v1h-6zM114 480h5v1h-5zM178 480h11v1h-11zM243 480h14v1h-14zM419 480h14v1h-14zM483 480h4v1h-4zM504 480h3v1h-3zM519 480h3v1h-3zM538 480h2v1h-2zM552 480h3v1h-3zM802 480h4v1h-4zM844 480h2v1h-2zM92 481h5v1h-5zM204 481h10v1h-10zM416 481h3v1h-3zM433 481h22v1h-22zM507 481h6v1h-6zM540 481h5v1h-5zM550 481h2v1h-2zM711 470h3v1h-3zM898 470h7v1h-7zM127 477h3v1h-3zM168 477h3v1h-3zM219 477h4v1h-4zM232 477h3v1h-3zM266 477h7v1h-7zM527 477h3v1h-3zM533 477h2v1h-2zM566 477h2v1h-2zM654 477h2v1h-2zM664 477h3v1h-3zM671 477h3v1h-3zM759 477h3v1h-3zM766 477h2v1h-2zM776 477h3v1h-3zM791 477h3v1h-3zM635 471h10v1h-10zM731 471h18v1h-18zM864 471h2v1h-2zM401 483h13v1h-13zM458 483h11v1h-11zM721 467h5v1h-5zM873 467h16v1h-16zM619 472h3v1h-3zM645 472h2v1h-2zM684 472h5v1h-5zM707 472h3v1h-3zM106 478h5v1h-5zM122 478h5v1h-5zM171 478h4v1h-4zM223 478h3v1h-3zM230 478h2v1h-2zM239 478h3v1h-3zM263 478h3v1h-3zM479 478h3v1h-3zM490 478h12v1h-12zM523 478h4v1h-4zM535 478h2v1h-2zM561 478h5v1h-5zM656 478h3v1h-3zM662 478h2v1h-2zM674 478h3v1h-3zM756 478h3v1h-3zM768 478h3v1h-3zM774 478h2v1h-2zM794 478h5v1h-5zM847 478h3v1h-3zM139 473h3v1h-3zM622 473h2v1h-2zM631 473h3v1h-3zM647 473h2v1h-2zM689 473h6v1h-6zM704 473h3v1h-3zM130 476h4v1h-4zM147 476h6v1h-6zM166 476h2v1h-2zM235 476h3v1h-3zM273 476h4v1h-4zM476 476h2v1h-2zM530 476h3v1h-3zM568 476h3v1h-3zM585 476h8v1h-8zM610 476h4v1h-4zM652 476h2v1h-2zM667 476h4v1h-4zM678 476h2v1h-2zM762 476h4v1h-4zM779 476h12v1h-12zM851 476h6v1h-6zM320 491h3v1h-3zM361 491h14v1h-14zM378 493h7v1h-7zM136 474h3v1h-3zM142 474h2v1h-2zM601 474h6v1h-6zM615 474h3v1h-3zM624 474h3v1h-3zM681 474h2v1h-2zM695 474h3v1h-3zM702 474h2v1h-2zM15 487h3v1h-3zM33 487h5v1h-5zM55 487h3v1h-3zM65 487h8v1h-8zM310 487h2v1h-2zM284 484h3v1h-3zM811 484h3v1h-3zM287 485h3v1h-3zM189 479h1v1h-1zM203 479h1v2h-1zM242 479h1v1h-1zM279 479h1v1h-1zM482 479h1v1h-1zM522 479h1v1h-1zM537 479h1v1h-1zM846 479h1v1h-1zM10 489h1v1h-1zM85 489h1v1h-1zM336 489h1v1h-1zM346 489h1v1h-1zM390 489h1v2h-1zM88 485h1v2h-1zM393 486h1v1h-1zM838 486h1v1h-1zM86 488h1v1h-1zM391 488h1v1h-1zM192 475h1v1h-1zM200 475h1v2h-1zM614 475h1v1h-1zM680 475h1v1h-1zM91 482h1v1h-1zM282 482h1v1h-1zM469 482h1v1h-1zM842 482h1v1h-1zM726 468h1v1h-1zM714 469h1v1h-1zM867 469h1v1h-1zM214 480h1v1h-1zM280 480h1v1h-1zM471 480h1v1h-1zM281 481h1v1h-1zM470 481h1v1h-1zM518 481h1v1h-1zM806 481h1v1h-1zM843 481h1v1h-1zM196 470h1v1h-1zM730 470h1v1h-1zM866 470h1v1h-1zM190 477h1v2h-1zM201 477h1v1h-1zM238 477h1v1h-1zM277 477h1v1h-1zM475 477h1v1h-1zM478 477h1v1h-1zM677 477h1v1h-1zM755 477h1v1h-1zM850 477h1v1h-1zM195 471h1v1h-1zM197 471h1v2h-1zM710 471h1v1h-1zM90 483h1v1h-1zM283 483h1v1h-1zM395 483h1v1h-1zM810 483h1v1h-1zM841 483h1v1h-1zM194 472h1v2h-1zM634 472h1v1h-1zM749 472h1v1h-1zM863 472h1v1h-1zM202 478h1v1h-1zM218 478h1v1h-1zM278 478h1v1h-1zM474 478h1v1h-1zM198 473h1v1h-1zM618 473h1v1h-1zM683 473h1v1h-1zM750 473h1v1h-1zM862 473h1v1h-1zM191 476h1v1h-1zM754 476h1v1h-1zM6 491h1v1h-1zM333 491h1v1h-1zM389 491h1v1h-1zM193 474h1v1h-1zM199 474h1v1h-1zM630 474h1v1h-1zM649 474h1v1h-1zM751 474h1v1h-1zM861 474h1v1h-1zM87 487h1v1h-1zM339 487h1v1h-1zM342 487h1v1h-1zM392 487h1v1h-1zM818 487h1v1h-1zM837 487h1v1h-1zM89 484h1v1h-1zM394 484h1v2h-1zM840 484h1v1h-1zM814 485h1v1h-1zM839 485h1v1h-1z"/>
<line x1="5" y1="463.5" x2="1150" y2="463.5" stroke="#c0c0c0" stroke-dasharray="3 3"/>
<line x1="5" y1="488.5" x2="1150" y2="488.5" stroke="#c0c0c0" stroke-dasharray="3 3"/>
</g>
</svg>

<svg width="1192" height="554" viewBox="0 0 1192 554" style="position:absolute;left:0;top:0" shape-rendering="crispEdges">
<rect x="1151" y="41" width="2" height="1" fill="#000"/>
<rect x="1151" y="74" width="2" height="1" fill="#000"/>
<rect x="1151" y="107" width="2" height="1" fill="#000"/>
<rect x="1151" y="140" width="2" height="1" fill="#000"/>
<rect x="1151" y="173" width="2" height="1" fill="#000"/>
<rect x="1151" y="206" width="2" height="1" fill="#000"/>
<rect x="1151" y="239" width="2" height="1" fill="#000"/>
<rect x="1151" y="272" width="2" height="1" fill="#000"/>
<rect x="1151" y="305" width="2" height="1" fill="#000"/>
<rect x="1151" y="338" width="2" height="1" fill="#000"/>
<rect x="1151" y="371" width="2" height="1" fill="#000"/>
<rect x="1151" y="378" width="1" height="1" fill="#000"/>
<rect x="1151" y="439" width="1" height="1" fill="#000"/>
<rect x="1151" y="444" width="1" height="1" fill="#000"/>
<rect x="1151" y="507" width="1" height="1" fill="#000"/>
<rect x="1151" y="392" width="1" height="1" fill="#000"/>
<rect x="4" y="509" width="1" height="3" fill="#000"/>
<rect x="68" y="509" width="1" height="3" fill="#000"/>
<rect x="132" y="509" width="1" height="3" fill="#000"/>
<rect x="196" y="509" width="1" height="3" fill="#000"/>
<rect x="260" y="509" width="1" height="3" fill="#000"/>
<rect x="324" y="509" width="1" height="3" fill="#000"/>
<rect x="388" y="509" width="1" height="3" fill="#000"/>
<rect x="452" y="509" width="1" height="3" fill="#000"/>
<rect x="516" y="509" width="1" height="3" fill="#000"/>
<rect x="580" y="509" width="1" height="3" fill="#000"/>
<rect x="644" y="509" width="1" height="3" fill="#000"/>
<rect x="708" y="509" width="1" height="3" fill="#000"/>
<rect x="772" y="509" width="1" height="3" fill="#000"/>
<rect x="836" y="509" width="1" height="3" fill="#000"/>
<rect x="900" y="509" width="1" height="3" fill="#000"/>
<rect x="1144" y="130" width="6" height="6" fill="#ff0000"/><rect x="1146" y="132" width="2" height="2" fill="#fff"/>
<rect x="3" y="130" width="6" height="6" fill="#ff0000"/><rect x="5" y="132" width="2" height="2" fill="#fff"/>
<rect x="1144" y="203" width="6" height="6" fill="#ff0000"/><rect x="1146" y="205" width="2" height="2" fill="#fff"/>
<rect x="3" y="203" width="6" height="6" fill="#ff0000"/><rect x="5" y="205" width="2" height="2" fill="#fff"/>
<rect x="1144" y="270" width="6" height="6" fill="#00ff00"/><rect x="1146" y="272" width="2" height="2" fill="#fff"/>
<rect x="3" y="270" width="6" height="6" fill="#00ff00"/><rect x="5" y="272" width="2" height="2" fill="#fff"/>
<rect x="1144" y="350" width="6" height="6" fill="#0000ff"/><rect x="1146" y="352" width="2" height="2" fill="#fff"/>
<rect x="3" y="350" width="6" height="6" fill="#0000ff"/><rect x="5" y="352" width="2" height="2" fill="#fff"/>
<polygon points="7,31 14.5,31 10.75,35" fill="#000" shape-rendering="auto"/>
<rect x="0" y="529" width="1192" height="2" fill="#ececec"/>
<rect x="0" y="532" width="1192" height="19" fill="#f0f0f0"/>
<rect x="0" y="552" width="1192" height="2" fill="#f0f0f0"/>
<rect x="0" y="531" width="1192" height="1" fill="#000"/>
<rect x="0" y="531" width="1" height="19" fill="#696969"/>
<rect x="106" y="531" width="106" height="18" fill="#fff"/>
<rect x="105" y="531" width="1" height="19" fill="#000"/>
<rect x="212" y="531" width="1" height="19" fill="#000"/>
<rect x="105" y="549" width="108" height="1" fill="#000"/>
<rect x="321" y="535" width="1" height="13" fill="#808080"/>
<rect x="429" y="535" width="1" height="13" fill="#808080"/>
<rect x="537" y="535" width="1" height="13" fill="#808080"/>
<rect x="649" y="535" width="1" height="13" fill="#808080"/>
<rect x="745" y="535" width="1" height="13" fill="#808080"/>
<rect x="833" y="535" width="1" height="13" fill="#808080"/>
<rect x="917" y="535" width="1" height="13" fill="#808080"/>
<rect x="1001" y="535" width="1" height="13" fill="#808080"/>
<polygon points="1169,536 1169,542 1165,539" fill="#909090" shape-rendering="auto"/>
<polygon points="1184,536 1184,542 1188,539" fill="#909090" shape-rendering="auto"/>
</svg>
<div class="abs tb" id="tb_5" style="left:0.46px;top:4.54px;font-size:10px;transform:scaleX(0.8511);">5</div>
<div class="abs tb" id="tb_M30" style="left:15.16px;top:4.54px;font-size:10px;transform:scaleX(0.9235);">M30</div>
<div class="abs tb" id="tb_H1" style="left:46.25px;top:4.54px;font-size:10px;transform:scaleX(0.9391);">H1</div>
<div class="abs tb" id="tb_H4" style="left:73.21px;top:4.54px;font-size:10px;transform:scaleX(0.9915);">H4</div>
<div class="abs tb" id="tb_D1" style="left:102.48px;top:4.54px;font-size:10px;transform:scaleX(0.9043);">D1</div>
<div class="abs tb" id="tb_W1" style="left:130.41px;top:4.54px;font-size:10px;transform:scaleX(0.9028);">W1</div>
<div class="abs tb" id="tb_MN" style="left:156.54px;top:4.54px;font-size:10px;transform:scaleX(0.9496);">MN</div>
<div class="abs t9" id="title" style="left:18.65px;top:28.54px;font-size:10px;transform:scaleX(0.9412);">EURUSD-,Daily</div>
<div class="abs t9" id="title2" style="left:91.96px;top:28.54px;font-size:10px;transform:scaleX(0.9248);">1.14194 1.14469 1.14017 1.14217</div>
<div class="abs t9" id="macdt" style="left:7.50px;top:381.54px;font-size:10px;transform:scaleX(0.9377);">MACD(12,26,9) 0.002589 -0.000479</div>
<div class="abs t9" id="rsit" style="left:7.66px;top:447.54px;font-size:10px;transform:scaleX(0.9237);">RSI(14) 59.4172</div>
<div class="abs ax" id="p1_16925" style="left:1155.97px;top:37.53px;font-size:10px;transform:scaleX(0.9083);">1.16925</div>
<div class="abs ax" id="p1_16340" style="left:1155.97px;top:70.53px;font-size:10px;transform:scaleX(0.9083);">1.16340</div>
<div class="abs ax" id="p1_15755" style="left:1155.97px;top:103.53px;font-size:10px;transform:scaleX(0.9083);">1.15755</div>
<div class="abs ax" id="p1_15185" style="left:1155.97px;top:136.53px;font-size:10px;transform:scaleX(0.9083);">1.15185</div>
<div class="abs ax" id="p1_14600" style="left:1155.97px;top:169.53px;font-size:10px;transform:scaleX(0.9083);">1.14600</div>
<div class="abs ax" id="p1_13430" style="left:1155.97px;top:235.53px;font-size:10px;transform:scaleX(0.9083);">1.13430</div>
<div class="abs ax" id="p1_12260" style="left:1155.97px;top:301.54px;font-size:10px;transform:scaleX(0.9083);">1.12260</div>
<div class="abs ax" id="p1_11690" style="left:1155.97px;top:334.54px;font-size:10px;transform:scaleX(0.9083);">1.11690</div>
<div class="abs ax" id="p1_11105" style="left:1155.97px;top:367.54px;font-size:10px;transform:scaleX(0.9083);">1.11105</div>
<div style="position:absolute;left:1152px;top:190px;width:40px;height:10px;background:#000"></div>
<div style="position:absolute;left:1152px;top:127px;width:40px;height:11px;background:#ff0000"></div>
<div style="position:absolute;left:1152px;top:200px;width:40px;height:11px;background:#ff0000"></div>
<div style="position:absolute;left:1152px;top:267px;width:40px;height:11px;background:#00ff00"></div>
<div style="position:absolute;left:1152px;top:347px;width:40px;height:11px;background:#0000ff"></div>
<div class="abs ax" id="l1_15308" style="left:1155.97px;top:128.53px;font-size:10px;transform:scaleX(0.9083);color:#fff;">1.15308</div>
<div class="abs ax" id="l1_14014" style="left:1155.98px;top:201.53px;font-size:10px;transform:scaleX(0.9057);color:#fff;">1.14014</div>
<div class="abs ax" id="l1_12829" style="left:1155.97px;top:268.54px;font-size:10px;transform:scaleX(0.9083);color:#fff;">1.12829</div>
<div class="abs ax" id="l1_11422" style="left:1155.97px;top:348.54px;font-size:10px;transform:scaleX(0.9109);color:#fff;">1.11422</div>
<div class="abs ax" id="l1_14217" style="left:1155.97px;top:191.53px;font-size:10px;transform:scaleX(0.9109);color:#fff;">1.14217</div>
<div class="abs ax" id="m1" style="left:1154.03px;top:379.54px;font-size:10px;transform:scaleX(0.9200);">0.003209</div>
<div class="abs ax" id="m2" style="left:1154.03px;top:388.54px;font-size:10px;transform:scaleX(0.9200);">0.00</div>
<div class="abs ax" id="m3" style="left:1153.73px;top:429.54px;font-size:10px;transform:scaleX(0.9200);">-0.010433</div>
<div class="abs ax" id="r100" style="left:1153.86px;top:445.54px;font-size:10px;transform:scaleX(0.9200);">100</div>
<div class="abs ax" id="r70" style="left:1154.14px;top:459.54px;font-size:10px;transform:scaleX(0.9200);">70</div>
<div class="abs ax" id="r30" style="left:1154.23px;top:484.54px;font-size:10px;transform:scaleX(0.9200);">30</div>
<div class="abs ax" id="r0" style="left:1154.23px;top:497.54px;font-size:10px;transform:scaleX(0.9200);">0</div>
<div class="abs dt" id="d0" style="left:2.93px;top:513.53px;font-size:10px;transform:scaleX(0.9158);">30 Sep 2021</div>
<div class="abs dt" id="d1" style="left:67.15px;top:513.53px;font-size:10px;transform:scaleX(0.9323);">10 Oct 2021</div>
<div class="abs dt" id="d2" style="left:130.96px;top:513.53px;font-size:10px;transform:scaleX(0.9229);">19 Oct 2021</div>
<div class="abs dt" id="d3" style="left:195.04px;top:513.53px;font-size:10px;transform:scaleX(0.9252);">28 Oct 2021</div>
<div class="abs dt" id="d4" style="left:259.23px;top:513.53px;font-size:10px;transform:scaleX(0.9381);">7 Nov 2021</div>
<div class="abs dt" id="d5" style="left:322.75px;top:513.53px;font-size:10px;transform:scaleX(0.9386);">16 Nov 2021</div>
<div class="abs dt" id="d6" style="left:387.03px;top:513.53px;font-size:10px;transform:scaleX(0.9425);">25 Nov 2021</div>
<div class="abs dt" id="d7" style="left:450.94px;top:513.53px;font-size:10px;transform:scaleX(0.9044);">5 Dec 2021</div>
<div class="abs dt" id="d8" style="left:515.08px;top:513.53px;font-size:10px;transform:scaleX(0.8971);">14 Dec 2021</div>
<div class="abs dt" id="d9" style="left:578.74px;top:513.53px;font-size:10px;transform:scaleX(0.9120);">23 Dec 2021</div>
<div class="abs dt" id="d10" style="left:642.54px;top:513.53px;font-size:10px;transform:scaleX(0.9113);">2 Jan 2022</div>
<div class="abs dt" id="d11" style="left:706.99px;top:513.53px;font-size:10px;transform:scaleX(0.8901);">11 Jan 2022</div>
<div class="abs dt" id="d12" style="left:770.85px;top:513.53px;font-size:10px;transform:scaleX(0.9074);">20 Jan 2022</div>
<div class="abs dt" id="d13" style="left:834.94px;top:513.53px;font-size:10px;transform:scaleX(0.9039);">30 Jan 2022</div>
<div class="abs dt" id="d14" style="left:898.43px;top:513.53px;font-size:10px;transform:scaleX(0.9296);">8 Feb 2022</div>
<div class="abs tab" id="tab0" style="left:15.26px;top:535.00px;font-size:13px;transform:scaleX(0.9538);">USDX,Weekly</div>
<div class="abs tab" id="tab1" style="left:116.04px;top:535.00px;font-size:13px;transform:scaleX(0.9270);color:#000;">EURUSD-,Daily</div>
<div class="abs tab" id="tab2" style="left:223.00px;top:535.00px;font-size:13px;transform:scaleX(0.9384);">AUDUSD-,Daily</div>
<div class="abs tab" id="tab3" style="left:332.03px;top:535.00px;font-size:13px;transform:scaleX(0.9310);">USDCHF-,Daily</div>
<div class="abs tab" id="tab4" style="left:439.02px;top:535.00px;font-size:13px;transform:scaleX(0.9436);">USDCAD-,Daily</div>
<div class="abs tab" id="tab5" style="left:548.00px;top:535.00px;font-size:13px;transform:scaleX(0.9629);">USDCNH-,Daily</div>
<div class="abs tab" id="tab6" style="left:659.63px;top:535.00px;font-size:13px;transform:scaleX(0.9390);">XAUUSD-,H1</div>
<div class="abs tab" id="tab7" style="left:753.95px;top:535.00px;font-size:13px;transform:scaleX(1.0053);">UKOil-,M15</div>
<div class="abs tab" id="tab8" style="left:842.98px;top:535.00px;font-size:13px;transform:scaleX(0.9837);">DJ30-,M30</div>
<div class="abs tab" id="tab9" style="left:926.98px;top:535.00px;font-size:13px;transform:scaleX(0.9815);">UK100-,H1</div>
</body></html>
